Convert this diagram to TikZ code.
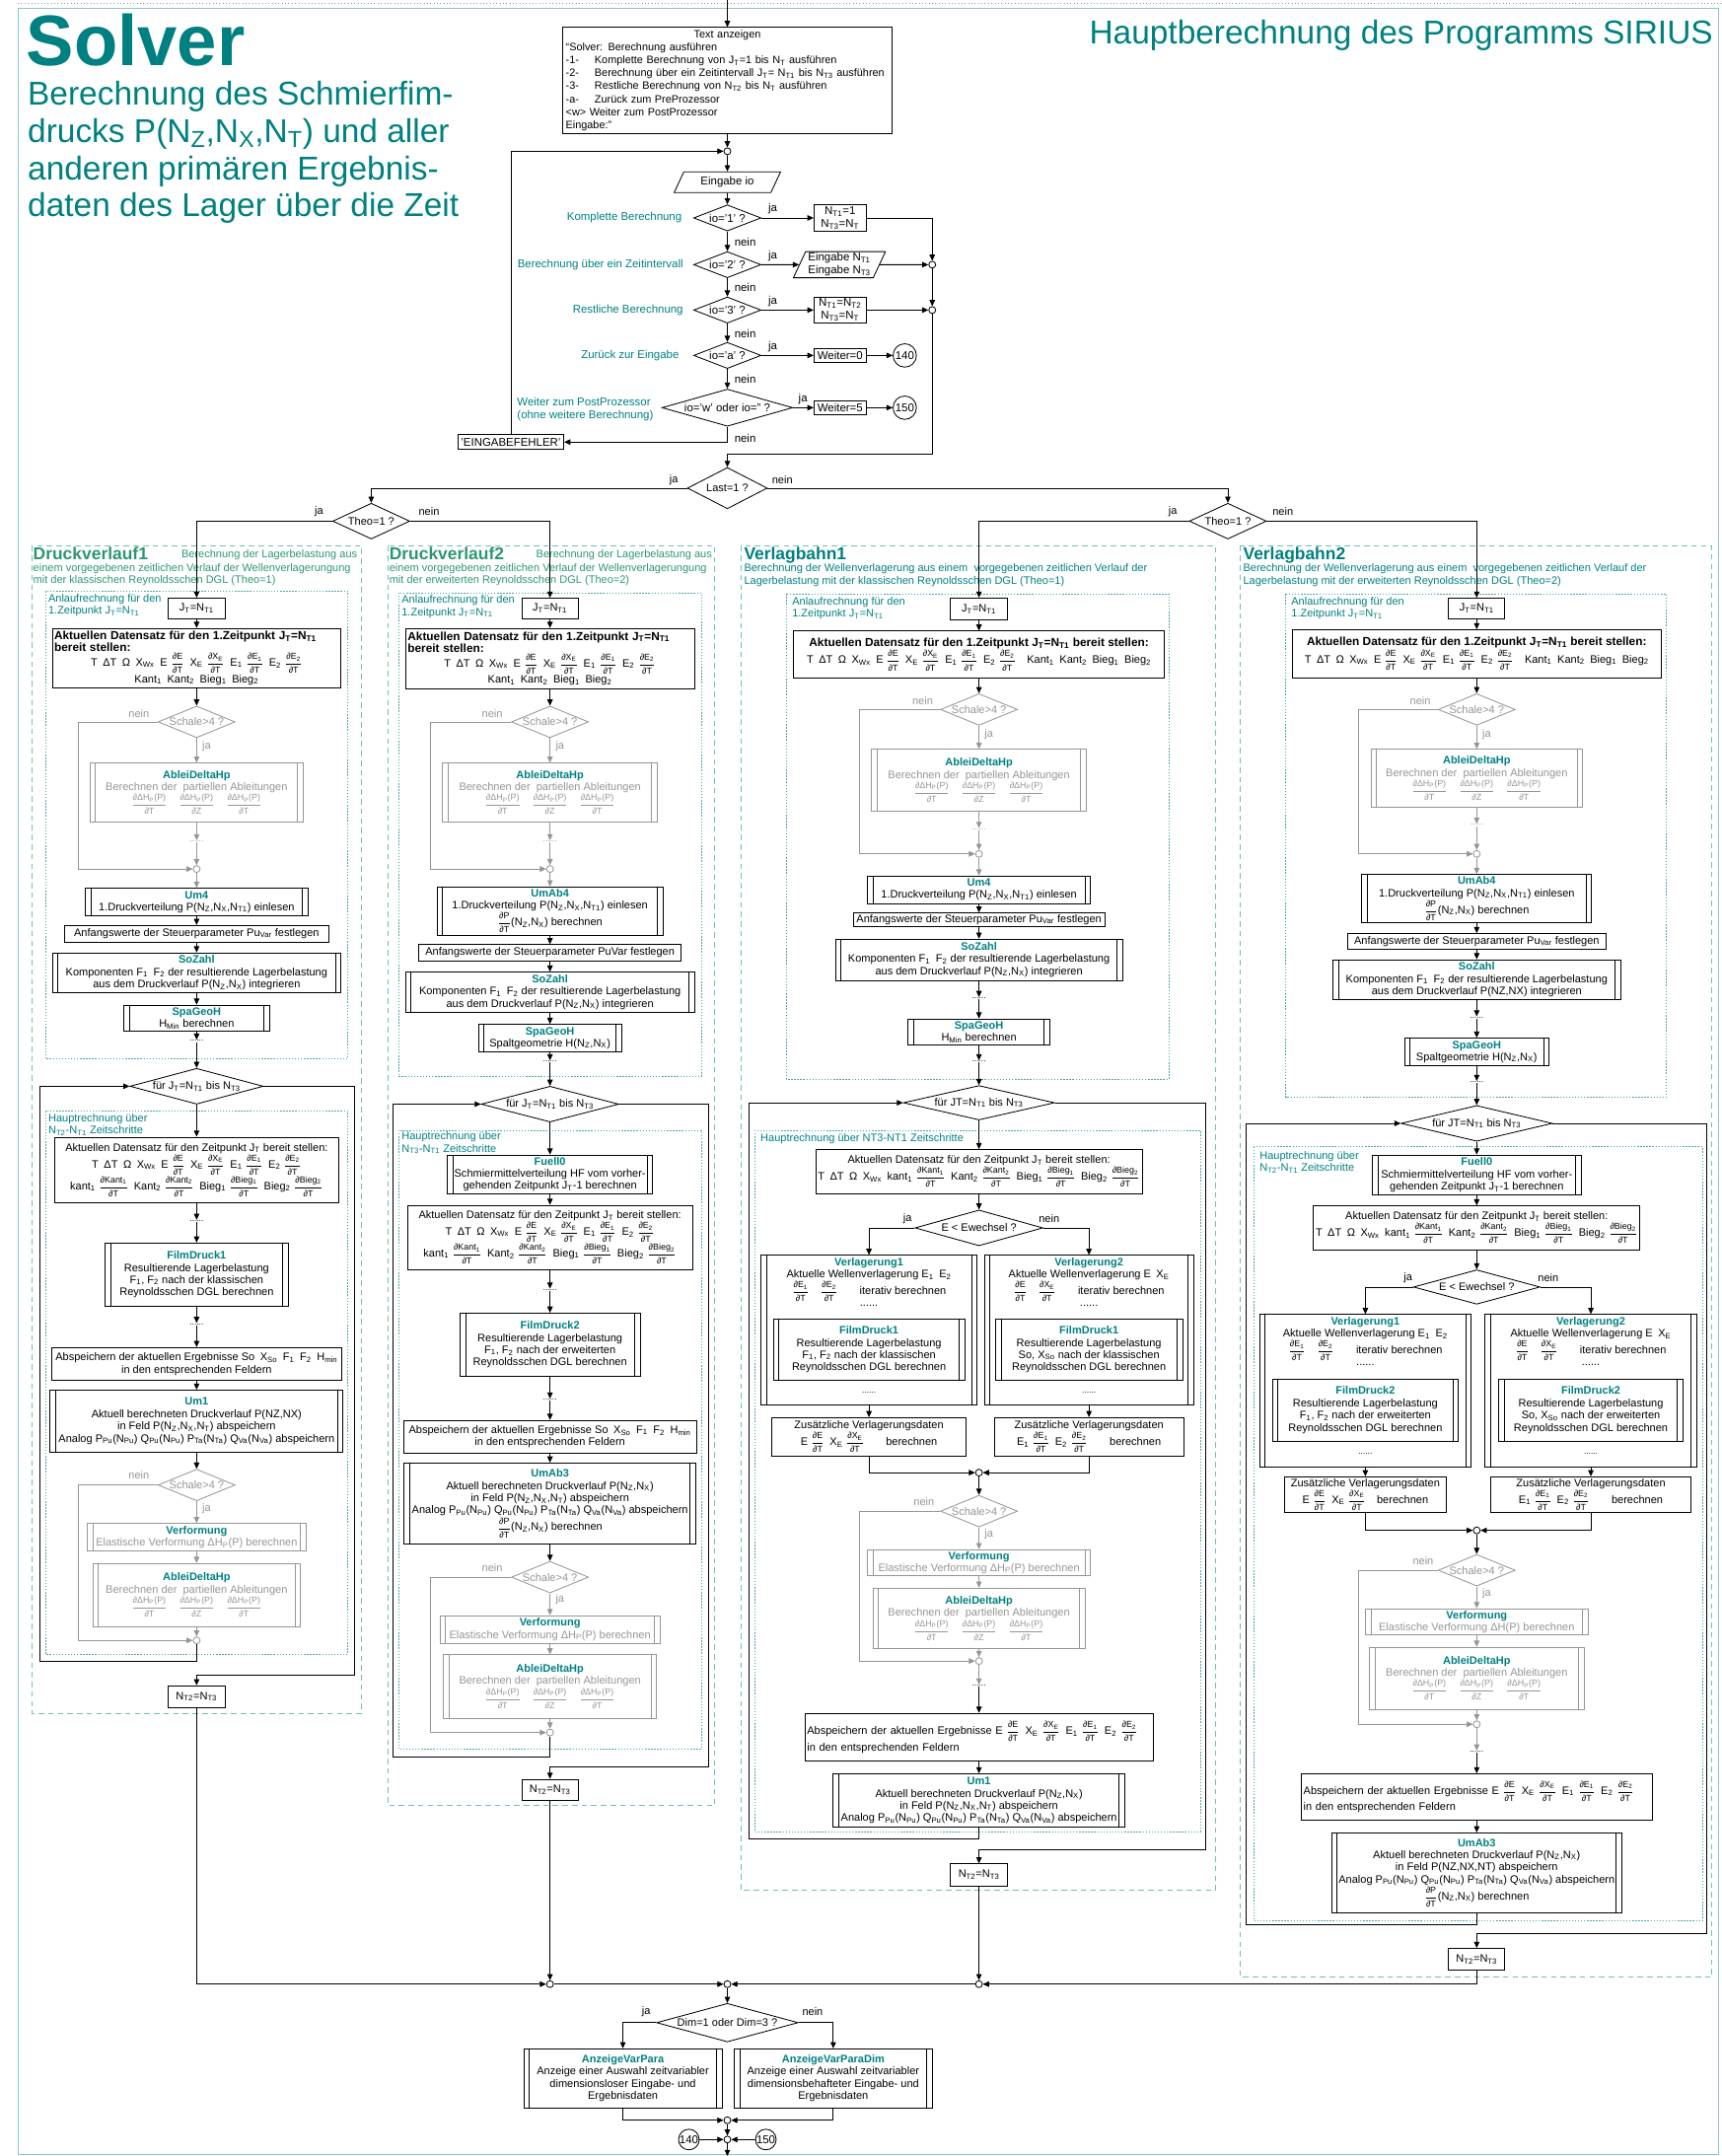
\documentclass[tikz,border=0pt]{standalone}
\usepackage{amsmath}
\usepackage{fontspec}
\setmainfont{Liberation Sans}
\usetikzlibrary{positioning,arrows.meta,shapes.geometric}
\definecolor{tealc}{RGB}{0,128,128}
\definecolor{greenc}{RGB}{45,150,115}
\definecolor{framec}{RGB}{110,195,170}
\definecolor{grayc}{RGB}{150,150,150}
\newcommand{\fs}{\fontsize{7.9}{8.9}\selectfont}
\newcommand{\fb}{\fontsize{8.5}{9.3}\selectfont\bfseries}
\newcommand{\ftop}{\fontsize{8.2}{9.3}\selectfont}
\newcommand{\sbs}[1]{\textsubscript{#1}}
\newcommand{\pn}[1]{\textbf{\textcolor{tealc}{#1}}}
\newcommand{\pd}[2]{{\fontsize{6.4}{7}\selectfont$\dfrac{\text{∂#1}}{\text{∂#2}}$}}
\newcommand{\dhrow}{\pd{ΔH\sbs{P}(P)}{T}\quad\pd{ΔH\sbs{P}(P)}{Z}\quad\pd{ΔH\sbs{P}(P)}{T}}
\newcommand{\ableitext}{\pn{AbleiDeltaHp}\\Berechnen der~ partiellen Ableitungen\\\dhrow}
\newcommand{\rowA}{T\enspace ΔT\enspace Ω\enspace X\sbs{Wx}\enspace E \pd{E}{T}\enspace X\sbs{E} \pd{X\sbs{E}}{T}\enspace E\sbs{1} \pd{E\sbs{1}}{T}\enspace E\sbs{2} \pd{E\sbs{2}}{T}}
\newcommand{\rowB}{Kant\sbs{1}\enspace Kant\sbs{2}\enspace Bieg\sbs{1}\enspace Bieg\sbs{2}}
\newcommand{\rowK}{kant\sbs{1} \pd{Kant\sbs{1}}{T}\enspace Kant\sbs{2} \pd{Kant\sbs{2}}{T}\enspace Bieg\sbs{1} \pd{Bieg\sbs{1}}{T}\enspace Bieg\sbs{2} \pd{Bieg\sbs{2}}{T}}
\newcommand{\analog}{Analog P\sbs{Pu}(N\sbs{Pu}) Q\sbs{Pu}(N\sbs{Pu}) P\sbs{Ta}(N\sbs{Ta}) Q\sbs{Va}(N\sbs{Va}) abspeichern}

\begin{document}
\begin{tikzpicture}[x=1pt, y=-1pt,
    ln/.style={line width=0.6pt},
    arr/.style={ln, -{Triangle[length=4.5pt, width=4pt]}},
    garr/.style={arr, grayc},
    box/.style={draw, ln, fill=white, inner xsep=1.5pt, inner ysep=1pt, align=center, font=\fs},
    sidec/.store in=\sidecol, sidec=black,
    sub/.style={box, path picture={
        \draw[\sidecol, ln] ([xshift=4pt]path picture bounding box.north west) -- ([xshift=4pt]path picture bounding box.south west);
        \draw[\sidecol, ln] ([xshift=-4pt]path picture bounding box.north east) -- ([xshift=-4pt]path picture bounding box.south east);}},
    gbox/.style={box, draw=grayc, text=grayc},
    gsub/.style={sub, draw=grayc, text=grayc, sidec=grayc},
    dec/.style={diamond, draw, ln, fill=white, inner sep=0pt, font=\fs},
    gdec/.style={dec, draw=grayc, text=grayc, aspect=2.4, minimum width=56pt, minimum height=23pt},
    io/.style={trapezium, trapezium left angle=65, trapezium right angle=115, draw, ln, fill=white, inner sep=1pt, align=center, font=\ftop},
    jn/.style={circle, draw, ln, fill=white, inner sep=0pt, minimum size=5pt},
    gjn/.style={jn, draw=grayc},
    con/.style={circle, draw, ln, fill=white, inner sep=0pt, minimum size=17pt, font=\ftop},
    dotrow/.style={font=\fontsize{6}{6}\selectfont, inner sep=0.3pt},
    gdotrow/.style={dotrow, text=grayc},
    lbl/.style={font=\fs, inner sep=1pt},
    glbl/.style={lbl, text=grayc},
    tlbl/.style={font=\fs, text=tealc, inner sep=0pt, align=left},
    desc/.style={font=\fs, text=greenc, inner sep=0pt, align=left},
    ttl/.style={font=\fontsize{12.5}{12.5}\selectfont\bfseries, text=greenc, inner sep=0pt},
    frm/.style={draw=framec, line width=0.7pt, dash pattern=on 4pt off 3pt},
    ifrm/.style={draw=tealc!70, line width=0.5pt, dash pattern=on 1pt off 1.2pt},
  ]
  \useasboundingbox (0,0) rectangle (1252,1568);
  \draw[grayc, dotted] (13,2) -- (1252,2);
  \draw[tealc!45, line width=0.6pt] (13,6) rectangle (1250,1567);

  % --- Titel ---
  \node[anchor=base west, inner sep=0pt, text=tealc, font=\fontsize{52}{52}\selectfont\bfseries] (title) at (19,48) {Solver};
  \node[anchor=north west, inner sep=0pt, text=tealc, align=left, font=\fontsize{24}{27}\selectfont] (subtitle) at (20,59)
    {Berechnung des Schmierfim-\\drucks P(N\sbs{Z},N\sbs{X},N\sbs{T}) und aller\\anderen primären Ergebnis-\\daten des Lager über die Zeit};
  \node[anchor=base east, inner sep=0pt, text=tealc, font=\fontsize{24}{27}\selectfont] (head) at (1246,32) {Hauptberechnung des Programms SIRIUS};

  % --- Eingabe ---
  \coordinate (top) at (529,0);
  \node[box, font=\fontsize{7.8}{9.4}\selectfont, text width=235pt, align=left, inner xsep=2pt, minimum height=77pt] (txt) at (529,58.5)
    {\makebox[\linewidth][c]{Text anzeigen}\\
     “Solver: Berechnung ausführen\\
     \makebox[21pt][l]{-1-}Komplette Berechnung von J\sbs{T}=1 bis N\sbs{T} ausführen\\
     \makebox[21pt][l]{-2-}Berechnung über ein Zeitintervall J\sbs{T}= N\sbs{T1} bis N\sbs{T3} ausführen\\
     \makebox[21pt][l]{-3-}Restliche Berechnung von N\sbs{T2} bis N\sbs{T} ausführen\\
     \makebox[21pt][l]{-a-}Zurück zum PreProzessor\\
     <w> Weiter zum PostProzessor\\
     Eingabe:”};
  \draw[arr] (top) -- (txt);
  \node[jn] (j0) at (529,110) {};
  \draw[arr] (txt) -- (j0);
  \node[io, minimum width=50pt, minimum height=15pt] (inp) at (529,132.5) {Eingabe io};
  \draw[arr] (j0) -- (inp);
  \node[dec, font=\ftop, aspect=2.5, minimum width=49pt, minimum height=19pt] (q1) at (529,158.5) {io='1' ?};
  \node[dec, font=\ftop, aspect=2.5, minimum width=49pt, minimum height=19pt] (q2) at (529,192.5) {io='2' ?};
  \node[dec, font=\ftop, aspect=2.5, minimum width=49pt, minimum height=19pt] (q3) at (529,225.5) {io='3' ?};
  \node[dec, font=\ftop, aspect=2.5, minimum width=49pt, minimum height=19pt] (q4) at (529,258.5) {io='a' ?};
  \node[dec, font=\ftop, aspect=3.5, minimum width=95pt, minimum height=27pt] (q5) at (529,296.5) {io='w' oder io='' ?};
  \draw[arr] (inp) -- (q1);
  \draw[arr] (q1) -- (q2);
  \draw[arr] (q2) -- (q3);
  \draw[arr] (q3) -- (q4);
  \draw[arr] (q4) -- (q5);
  \node[lbl, font=\ftop, anchor=west] (q1n) at (533,176) {nein};
  \node[lbl, font=\ftop, anchor=west] (q2n) at (533,209) {nein};
  \node[lbl, font=\ftop, anchor=west] (q3n) at (533,242.5) {nein};
  \node[lbl, font=\ftop, anchor=west] (q4n) at (533,275.5) {nein};
  \node[lbl, font=\ftop, anchor=west] (q5n) at (533,318.5) {nein};
  \node[lbl, font=\ftop] (q1j) at (562,152) {ja};
  \node[lbl, font=\ftop] (q2j) at (562,186) {ja};
  \node[lbl, font=\ftop] (q3j) at (562,219) {ja};
  \node[lbl, font=\ftop] (q4j) at (562,252) {ja};
  \node[lbl, font=\ftop] (q5j) at (584,290.5) {ja};
  \node[tlbl, font=\ftop, anchor=east] (q1t) at (496,158.5) {Komplette Berechnung};
  \node[tlbl, font=\ftop, anchor=east] (q2t) at (497,192.5) {Berechnung über ein Zeitintervall};
  \node[tlbl, font=\ftop, anchor=east] (q3t) at (497,225.5) {Restliche Berechnung};
  \node[tlbl, font=\ftop, anchor=east] (q4t) at (494,258.5) {Zurück zur Eingabe};
  \node[tlbl, font=\ftop, anchor=west] (q5t) at (376,298) {Weiter zum PostProzessor\\(ohne weitere Berechnung)};
  \node[box, font=\ftop, inner sep=0.5pt, minimum width=38pt, minimum height=19pt] (r1) at (611,158.5) {N\sbs{T1}=1\\N\sbs{T3}=N\sbs{T}};
  \node[io, inner sep=0.5pt, minimum width=62pt, minimum height=19pt] (r2) at (610.5,192.5) {Eingabe N\sbs{T1}\\Eingabe N\sbs{T3}};
  \node[box, font=\ftop, inner sep=0.5pt, minimum width=38pt, minimum height=19pt] (r3) at (611,225.5) {N\sbs{T1}=N\sbs{T2}\\N\sbs{T3}=N\sbs{T}};
  \node[box, font=\ftop, inner sep=0.5pt, minimum width=38pt, minimum height=10pt] (r4) at (611,258.5) {Weiter=0};
  \node[box, font=\ftop, inner sep=0.5pt, minimum width=38pt, minimum height=10pt] (r5) at (611,296.5) {Weiter=5};
  \node[con] (k140) at (658,258.5) {140};
  \node[con] (k150) at (658,296.5) {150};
  \node[jn] (j2) at (678,192.5) {};
  \node[jn] (j3) at (678,225.5) {};
  \draw[arr] (q1) -- (r1);
  \draw[arr] (q2) -- (r2);
  \draw[arr] (q3) -- (r3);
  \draw[arr] (q4) -- (r4);
  \draw[arr] (q5) -- (r5);
  \draw[arr] (r4) -- (k140);
  \draw[arr] (r5) -- (k150);
  \draw[arr] (r1) -| (j2);
  \draw[arr] (r2) -- (j2);
  \draw[arr] (j2) -- (j3);
  \draw[arr] (r3) -- (j3);
  \node[box, font=\ftop, inner sep=0.5pt, minimum width=77pt, minimum height=11pt] (err) at (371.5,321.5) {'EINGABEFEHLER'};
  \draw[arr] (q5) |- (err);
  \draw[arr] (err) |- (j0);

  % --- Verzweigung ---
  \node[dec, aspect=2, minimum width=58pt, minimum height=30pt] (last) at (529,355) {Last=1 ?};
  \draw[arr] (j3) -- (678,330) -| (last);
  \node[dec, aspect=2, minimum width=56pt, minimum height=26pt] (theo1) at (270,379) {Theo=1 ?};
  \node[dec, aspect=2, minimum width=56pt, minimum height=26pt] (theo2) at (893,379) {Theo=1 ?};
  \draw[arr] (last) -| (theo1);
  \draw[arr] (last) -| (theo2);
  \node[lbl] (lastj) at (490,349) {ja};
  \node[lbl] (lastn) at (569,349) {nein};
  \node[lbl] (t1j) at (232,372) {ja};
  \node[lbl] (t1n) at (312,372) {nein};
  \node[lbl] (t2j) at (853,372) {ja};
  \node[lbl] (t2n) at (933,372) {nein};

  % --- Druckverlauf1 ---
  \draw[frm] (23,397) rectangle (263,1246);
  \node[ttl, anchor=north west] (aT) at (24,398) {Druckverlauf1};
  \node[desc, anchor=north east] (aD1) at (260,400) {Berechnung der Lagerbelastung aus};
  \node[desc, anchor=north west] (aD2) at (24,409.5) {einem vorgegebenen zeitlichen Verlauf der Wellenverlagerungung\\mit der klassischen Reynoldsschen DGL (Theo=1)};
  \draw[ifrm] (33,430) rectangle (253,770);
  \node[tlbl, anchor=north west] (aL1) at (35,432) {Anlaufrechnung für den\\1.Zeitpunkt J\sbs{T}=N\sbs{T1}};
  \node[box, minimum width=41pt, minimum height=15pt] (a1) at (143,442.5) {J\sbs{T}=N\sbs{T1}};
  \node[box, text width=207pt, align=left, minimum height=43pt] (a2) at (143,478.5)
    {{\fb Aktuellen Datensatz für den 1.Zeitpunkt J\sbs{T}=N\sbs{T1}\\bereit stellen:}\\\makebox[\linewidth][c]{\rowA}\\\makebox[\linewidth][c]{\rowB}};
  \node[gdec] (a3) at (143,525) {Schale>4 ?};
  \node[glbl] (a3n) at (101,519) {nein};
  \node[glbl, anchor=west] (a3j) at (146,543) {ja};
  \node[gsub, minimum width=155pt, minimum height=43pt] (a4) at (143,576.5) {\ableitext};
  \node[gdotrow] (a5) at (143,612) {......};
  \node[gjn] (a6) at (143,632) {};
  \node[sub, minimum width=162pt, minimum height=20pt] (a7) at (143,656) {\pn{Um4}\\1.Druckverteilung P(N\sbs{Z},N\sbs{X},N\sbs{T1}) einlesen};
  \node[box, minimum width=192pt, minimum height=12pt] (a8) at (143,679) {Anfangswerte der Steuerparameter Pu\sbs{Var} festlegen};
  \node[sub, minimum width=210pt, minimum height=29pt] (a9) at (143,707.5) {\pn{SoZahl}\\Komponenten F\sbs{1}\enspace F\sbs{2} der resultierende Lagerbelastung\\aus dem Druckverlauf P(N\sbs{Z},N\sbs{X}) integrieren};
  \node[sub, minimum width=106pt, minimum height=19pt] (a10) at (143,740.5) {\pn{SpaGeoH}\\H\sbs{Min} berechnen};
  \node[dotrow] (a11) at (143,757) {......};
  \node[dec, aspect=3.7, minimum width=97pt, minimum height=26pt] (a12) at (143,790) {für J\sbs{T}=N\sbs{T1} bis N\sbs{T3}};
  \draw[ifrm] (33,808) rectangle (253,1203);
  \node[tlbl, anchor=north west] (aL2) at (35,810) {Hauptrechnung über\\N\sbs{T2}-N\sbs{T1} Zeitschritte};
  \node[box, minimum width=206pt, minimum height=48pt] (a13) at (143,851) {Aktuellen Datensatz für den Zeitpunkt J\sbs{T} bereit stellen:\\\rowA\\\rowK};
  \node[dotrow] (a14) at (143,888) {......};
  \node[sub, minimum width=133pt, minimum height=46pt] (a15) at (143,927) {\pn{FilmDruck1}\\Resultierende Lagerbelastung\\F\sbs{1}, F\sbs{2} nach der klassischen\\Reynoldsschen DGL berechnen};
  \node[dotrow] (a16) at (143,963) {......};
  \node[box, minimum width=211pt, minimum height=24pt] (a17) at (143,992) {Abspeichern der aktuellen Ergebnisse So\enspace X\sbs{So}\enspace F\sbs{1}\enspace F\sbs{2}\enspace H\sbs{min}\\in den entsprechenden Feldern};
  \node[sub, minimum width=213pt, minimum height=45pt] (a18) at (143,1033.5) {\pn{Um1}\\Aktuell berechneten Druckverlauf P(NZ,NX)\\in Feld P(N\sbs{Z},N\sbs{X},N\sbs{T}) abspeichern\\\analog};
  \node[gdec] (a19) at (143,1080) {Schale>4 ?};
  \node[glbl] (a19n) at (101,1073) {nein};
  \node[glbl, anchor=west] (a19j) at (146,1097) {ja};
  \node[gsub, minimum width=159pt, minimum height=20pt] (a20) at (143,1118) {\pn{Verformung}\\Elastische Verformung ΔH\sbs{P}(P) berechnen};
  \node[gsub, minimum width=151pt, minimum height=46pt] (a21) at (143,1160) {\ableitext};
  \node[gjn] (a22) at (143,1193) {};
  \node[box, minimum width=41pt, minimum height=16pt] (aN) at (143,1234) {N\sbs{T2}=N\sbs{T3}};
  \draw[arr] (a1) -- (a2);
  \draw[arr] (a2) -- (a3);
  \draw[garr] (a3) -- (a4);
  \draw[garr] (a4) -- (a5);
  \draw[garr] (a5) -- (a6);
  \draw[garr] (a3) -- (57,525) |- (a6);
  \draw[garr] (a6) -- (a7);
  \draw[arr] (a7) -- (a8);
  \draw[arr] (a8) -- (a9);
  \draw[arr] (a9) -- (a10);
  \draw[arr] (a10) -- (a11);
  \draw[arr] (a11) -- (a12);
  \draw[arr] (a12) -- (a13);
  \draw[arr] (a13) -- (a14);
  \draw[arr] (a14) -- (a15);
  \draw[arr] (a15) -- (a16);
  \draw[arr] (a16) -- (a17);
  \draw[arr] (a17) -- (a18);
  \draw[arr] (a18) -- (a19);
  \draw[garr] (a19) -- (a20);
  \draw[garr] (a20) -- (a21);
  \draw[garr] (a21) -- (a22);
  \draw[garr] (a19) -- (57,1080) |- (a22);
  \draw[arr] (a22) -- (143,1208) -| (29,790) -- (a12);
  \draw[arr] (a12) -- (258,790) |- (143,1218) -- (aN);
  \draw[arr] (theo1) -| (a1);

  % --- Druckverlauf2 ---
  \draw[frm] (282,397) rectangle (520,1313);
  \node[ttl, anchor=north west] (bT) at (283,398) {Druckverlauf2};
  \node[desc, anchor=north east] (bD1) at (518,400) {Berechnung der Lagerbelastung aus};
  \node[desc, anchor=north west] (bD2) at (283,409.5) {einem vorgegebenen zeitlichen Verlauf der Wellenverlagerungung\\mit der erweiterten Reynoldsschen DGL (Theo=2)};
  \draw[ifrm] (290,431) rectangle (510,783);
  \node[tlbl, anchor=north west] (bL1) at (292,433) {Anlaufrechnung für den\\1.Zeitpunkt J\sbs{T}=N\sbs{T1}};
  \node[box, minimum width=41pt, minimum height=15pt] (b1) at (400,442.5) {J\sbs{T}=N\sbs{T1}};
  \node[box, text width=207pt, align=left, minimum height=44pt] (b2) at (400,479)
    {{\fb Aktuellen Datensatz für den 1.Zeitpunkt J\sbs{T}=N\sbs{T1}\\bereit stellen:}\\\makebox[\linewidth][c]{\rowA}\\\makebox[\linewidth][c]{\rowB}};
  \node[gdec] (b3) at (400,525) {Schale>4 ?};
  \node[glbl] (b3n) at (358,519) {nein};
  \node[glbl, anchor=west] (b3j) at (403,543) {ja};
  \node[gsub, minimum width=156pt, minimum height=43pt] (b4) at (400,576.5) {\ableitext};
  \node[gdotrow] (b5) at (400,612) {......};
  \node[gjn] (b6) at (400,632) {};
  \node[sub, minimum width=164pt, minimum height=35pt] (b7) at (400,662.5) {\pn{UmAb4}\\1.Druckverteilung P(N\sbs{Z},N\sbs{X},N\sbs{T1}) einlesen\\\pd{P}{T}(N\sbs{Z},N\sbs{X}) berechnen};
  \node[box, minimum width=191pt, minimum height=12pt] (b8) at (400,693) {Anfangswerte der Steuerparameter PuVar festlegen};
  \node[sub, minimum width=210pt, minimum height=29pt] (b9) at (400,721.5) {\pn{SoZahl}\\Komponenten F\sbs{1}\enspace F\sbs{2} der resultierende Lagerbelastung\\aus dem Druckverlauf P(N\sbs{Z},N\sbs{X}) integrieren};
  \node[sub, minimum width=104pt, minimum height=20pt] (b10) at (400,755) {\pn{SpaGeoH}\\Spaltgeometrie H(N\sbs{Z},N\sbs{X})};
  \node[dotrow] (b11) at (400,772) {......};
  \node[dec, aspect=3.7, minimum width=100pt, minimum height=26pt] (b12) at (400,803) {für J\sbs{T}=N\sbs{T1} bis N\sbs{T3}};
  \draw[ifrm] (290,822) rectangle (510,1272);
  \node[tlbl, anchor=north west] (bL2) at (292,823) {Hauptrechnung über\\N\sbs{T3}-N\sbs{T1} Zeitschritte};
  \node[sub, minimum width=149pt, minimum height=28pt] (b13) at (400,854) {\pn{Fuell0}\\Schmiermittelverteilung HF vom vorher-\\gehenden Zeitpunkt J\sbs{T}-1 berechnen};
  \node[box, minimum width=207pt, minimum height=47pt] (b14) at (400,900) {Aktuellen Datensatz für den Zeitpunkt J\sbs{T} bereit stellen:\\\rowA\\\rowK};
  \node[dotrow] (b15) at (400,938) {......};
  \node[sub, minimum width=131pt, minimum height=46pt] (b16) at (400,978) {\pn{FilmDruck2}\\Resultierende Lagerbelastung\\F\sbs{1}, F\sbs{2} nach der erweiterten\\Reynoldsschen DGL berechnen};
  \node[dotrow] (b17) at (400,1018) {......};
  \node[box, minimum width=213pt, minimum height=24pt] (b18) at (400,1045) {Abspeichern der aktuellen Ergebnisse So\enspace X\sbs{So}\enspace F\sbs{1}\enspace F\sbs{2}\enspace H\sbs{min}\\in den entsprechenden Feldern};
  \node[sub, minimum width=212pt, minimum height=59pt] (b19) at (400,1093.5) {\pn{UmAb3}\\Aktuell berechneten Druckverlauf P(N\sbs{Z},N\sbs{X})\\in Feld P(N\sbs{Z},N\sbs{X},N\sbs{T}) abspeichern\\\analog\\\pd{P}{T}(N\sbs{Z},N\sbs{X}) berechnen};
  \node[gdec] (b20) at (400,1147) {Schale>4 ?};
  \node[glbl] (b20n) at (358,1140) {nein};
  \node[glbl, anchor=west] (b20j) at (403,1163) {ja};
  \node[gsub, minimum width=160pt, minimum height=20pt] (b21) at (400,1185) {\pn{Verformung}\\Elastische Verformung ΔH\sbs{P}(P) berechnen};
  \node[gsub, minimum width=155pt, minimum height=46pt] (b22) at (400,1226.5) {\ableitext};
  \node[gjn] (b23) at (400,1260) {};
  \node[box, minimum width=41pt, minimum height=15pt] (bN) at (400,1301.5) {N\sbs{T2}=N\sbs{T3}};
  \draw[arr] (b1) -- (b2);
  \draw[arr] (b2) -- (b3);
  \draw[garr] (b3) -- (b4);
  \draw[garr] (b4) -- (b5);
  \draw[garr] (b5) -- (b6);
  \draw[garr] (b3) -- (313,525) |- (b6);
  \draw[garr] (b6) -- (b7);
  \draw[arr] (b7) -- (b8);
  \draw[arr] (b8) -- (b9);
  \draw[arr] (b9) -- (b10);
  \draw[arr] (b10) -- (b11);
  \draw[arr] (b11) -- (b12);
  \draw[arr] (b12) -- (b13);
  \draw[arr] (b13) -- (b14);
  \draw[arr] (b14) -- (b15);
  \draw[arr] (b15) -- (b16);
  \draw[arr] (b16) -- (b17);
  \draw[arr] (b17) -- (b18);
  \draw[arr] (b18) -- (b19);
  \draw[arr] (b19) -- (b20);
  \draw[garr] (b20) -- (b21);
  \draw[garr] (b21) -- (b22);
  \draw[garr] (b22) -- (b23);
  \draw[garr] (b20) -- (313,1147) |- (b23);
  \draw[arr] (b23) -- (400,1278) -| (286,803) -- (b12);
  \draw[arr] (b12) -- (515,803) |- (400,1285) -- (bN);
  \draw[arr] (theo1) -| (b1);

  % --- Verlagbahn1 ---
  \draw[frm] (539,397) rectangle (884,1375);
  \node[ttl, text=tealc, anchor=north west] (cT) at (541,398) {Verlagbahn1};
  \node[desc, text=tealc, anchor=north west] (cD) at (541,410) {Berechnung der Wellenverlagerung aus einem~ vorgegebenen zeitlichen Verlauf der\\Lagerbelastung mit der klassischen Reynoldsschen DGL (Theo=1)};
  \draw[ifrm] (572,432) rectangle (850,785);
  \node[tlbl, anchor=north west] (cL1) at (576,434) {Anlaufrechnung für den\\1.Zeitpunkt J\sbs{T}=N\sbs{T1}};
  \node[box, minimum width=42pt, minimum height=16pt] (c1) at (712,443) {J\sbs{T}=N\sbs{T1}};
  \node[box, minimum width=270pt, minimum height=34pt] (c2) at (712,476) {{\fb Aktuellen Datensatz für den 1.Zeitpunkt J\sbs{T}=N\sbs{T1} bereit stellen:}\\\rowA\quad\rowB};
  \node[gdec] (c3) at (712,516) {Schale>4 ?};
  \node[glbl] (c3n) at (671,510) {nein};
  \node[glbl, anchor=west] (c3j) at (715,534) {ja};
  \node[gsub, minimum width=156pt, minimum height=45pt] (c4) at (712,567.5) {\ableitext};
  \node[gdotrow] (c5) at (712,603) {......};
  \node[gjn] (c6) at (712,621) {};
  \node[sub, minimum width=162pt, minimum height=20pt] (c7) at (712,647) {\pn{Um4}\\1.Druckverteilung P(N\sbs{Z},N\sbs{X},N\sbs{T1}) einlesen};
  \node[box, minimum width=183pt, minimum height=10pt] (c8) at (712,669) {Anfangswerte der Steuerparameter Pu\sbs{Var} festlegen};
  \node[sub, minimum width=209pt, minimum height=30pt] (c9) at (712,698) {\pn{SoZahl}\\Komponenten F\sbs{1}\enspace F\sbs{2} der resultierende Lagerbelastung\\aus dem Druckverlauf P(N\sbs{Z},N\sbs{X}) integrieren};
  \node[dotrow] (c10) at (712,726) {......};
  \node[sub, minimum width=103pt, minimum height=19pt] (c11) at (712,750.5) {\pn{SpaGeoH}\\H\sbs{Min} berechnen};
  \node[dotrow] (c12) at (712,772) {......};
  \node[dec, aspect=4, minimum width=110pt, minimum height=25pt] (c13) at (712,802) {für JT=N\sbs{T1} bis N\sbs{T3}};
  \draw[ifrm] (549,822) rectangle (873,1332);
  \node[tlbl, anchor=north west] (cL2) at (553,824) {Hauptrechnung über NT3-NT1 Zeitschritte};
  \node[box, minimum width=211pt, minimum height=32pt] (c14) at (712,852) {Aktuellen Datensatz für den Zeitpunkt J\sbs{T} bereit stellen:\\T\enspace ΔT\enspace Ω\enspace X\sbs{Wx}\enspace\rowK};
  \node[dec, aspect=3.6, minimum width=93pt, minimum height=26pt] (c15) at (712,893) {E < Ewechsel ?};
  \node[lbl] (c15j) at (660,886) {ja};
  \node[lbl] (c15n) at (763,886) {nein};
  \node[sub, minimum width=157pt, minimum height=109pt] (c16) at (632,967.5) {};
  \node[lbl, anchor=north, align=center] (c16t) at (632,913.5) {\pn{Verlagerung1}\\Aktuelle Wellenverlagerung E\sbs{1}\enspace E\sbs{2}\\\pd{E\sbs{1}}{T}\quad\pd{E\sbs{2}}{T}\qquad iterativ berechnen\\......};
  \node[sub, minimum width=139pt, minimum height=45pt] (c17) at (632,981.5) {\pn{FilmDruck1}\\Resultierende Lagerbelastung\\F\sbs{1}, F\sbs{2} nach der klassischen\\Reynoldsschen DGL berechnen};
  \node[dotrow] (c17d) at (632,1013) {......};
  \node[sub, minimum width=152pt, minimum height=109pt] (c18) at (792,967.5) {};
  \node[lbl, anchor=north, align=center] (c18t) at (792,913.5) {\pn{Verlagerung2}\\Aktuelle Wellenverlagerung E\enspace X\sbs{E}\\\pd{E}{T}\quad\pd{X\sbs{E}}{T}\qquad iterativ berechnen\\......};
  \node[sub, minimum width=136pt, minimum height=45pt] (c19) at (792,981.5) {\pn{FilmDruck1}\\Resultierende Lagerbelastung\\So, X\sbs{So} nach der klassischen\\Reynoldsschen DGL berechnen};
  \node[dotrow] (c19d) at (792,1013) {......};
  \node[box, minimum width=141pt, minimum height=28pt] (c20) at (632,1045) {Zusätzliche Verlagerungsdaten\\E \pd{E}{T}\enspace X\sbs{E} \pd{X\sbs{E}}{T}\qquad berechnen};
  \node[box, minimum width=138pt, minimum height=28pt] (c21) at (792,1045) {Zusätzliche Verlagerungsdaten\\E\sbs{1} \pd{E\sbs{1}}{T}\enspace E\sbs{2} \pd{E\sbs{2}}{T}\qquad berechnen};
  \node[jn] (c22) at (712,1071) {};
  \node[gdec] (c23) at (712,1099) {Schale>4 ?};
  \node[glbl] (c23n) at (672,1092) {nein};
  \node[glbl, anchor=west] (c23j) at (715,1116) {ja};
  \node[gsub, minimum width=162pt, minimum height=19pt] (c24) at (712,1136.5) {\pn{Verformung}\\Elastische Verformung ΔH\sbs{P}(P) berechnen};
  \node[gsub, minimum width=154pt, minimum height=44pt] (c25) at (712,1177) {\ableitext};
  \node[gjn] (c26) at (712,1208) {};
  \node[dotrow] (c27) at (712,1226) {......};
  \node[box, text width=250pt, align=left, minimum height=35pt] (c28) at (712,1263.5) {Abspeichern der aktuellen Ergebnisse E \pd{E}{T}\enspace X\sbs{E} \pd{X\sbs{E}}{T}\enspace E\sbs{1} \pd{E\sbs{1}}{T}\enspace E\sbs{2} \pd{E\sbs{2}}{T}\\in den entsprechenden Feldern};
  \node[sub, minimum width=212pt, minimum height=39pt] (c29) at (712,1309.5) {\pn{Um1}\\Aktuell berechneten Druckverlauf P(N\sbs{Z},N\sbs{X})\\in Feld P(N\sbs{Z},N\sbs{X},N\sbs{T}) abspeichern\\\analog};
  \node[box, minimum width=42pt, minimum height=16pt] (cN) at (712,1363.5) {N\sbs{T2}=N\sbs{T3}};
  \draw[arr] (c1) -- (c2);
  \draw[arr] (c2) -- (c3);
  \draw[garr] (c3) -- (c4);
  \draw[garr] (c4) -- (c5);
  \draw[garr] (c5) -- (c6);
  \draw[garr] (c3) -- (625,516) |- (c6);
  \draw[garr] (c6) -- (c7);
  \draw[arr] (c7) -- (c8);
  \draw[arr] (c8) -- (c9);
  \draw[arr] (c9) -- (c10);
  \draw[arr] (c10) -- (c11);
  \draw[arr] (c11) -- (c12);
  \draw[arr] (c12) -- (c13);
  \draw[arr] (c13) -- (c14);
  \draw[arr] (c14) -- (c15);
  \draw[arr] (c15) -| (c16);
  \draw[arr] (c15) -| (c18);
  \draw[arr] (c16) -- (c20);
  \draw[arr] (c18) -- (c21);
  \draw[arr] (c20) |- (c22);
  \draw[arr] (c21) |- (c22);
  \draw[arr] (c22) -- (c23);
  \draw[garr] (c23) -- (c24);
  \draw[garr] (c24) -- (c25);
  \draw[garr] (c25) -- (c26);
  \draw[garr] (c23) -- (625,1099) |- (c26);
  \draw[garr] (c26) -- (c27);
  \draw[arr] (c27) -- (c28);
  \draw[arr] (c28) -- (c29);
  \draw[arr] (c29) -- (712,1337) -| (545,802) -- (c13);
  \draw[arr] (c13) -- (877,802) |- (712,1345) -- (cN);
  \draw[arr] (theo2) -| (c1);

  % --- Verlagbahn2 ---
  \draw[frm] (902,397) rectangle (1245,1438);
  \node[ttl, text=tealc, anchor=north west] (dT) at (904,398) {Verlagbahn2};
  \node[desc, text=tealc, anchor=north west] (dD) at (904,410) {Berechnung der Wellenverlagerung aus einem~ vorgegebenen zeitlichen Verlauf der\\Lagerbelastung mit der erweiterten Reynoldsschen DGL (Theo=2)};
  \draw[ifrm] (935,432) rectangle (1212,798);
  \node[tlbl, anchor=north west] (dL1) at (939,434) {Anlaufrechnung für den\\1.Zeitpunkt J\sbs{T}=N\sbs{T1}};
  \node[box, minimum width=41pt, minimum height=15pt] (d1) at (1074,442.5) {J\sbs{T}=N\sbs{T1}};
  \node[box, minimum width=268pt, minimum height=35pt] (d2) at (1074,475.5) {{\fb Aktuellen Datensatz für den 1.Zeitpunkt J\sbs{T}=N\sbs{T1} bereit stellen:}\\\rowA\quad\rowB};
  \node[gdec] (d3) at (1074,516) {Schale>4 ?};
  \node[glbl] (d3n) at (1033,510) {nein};
  \node[glbl, anchor=west] (d3j) at (1077,534) {ja};
  \node[gsub, minimum width=154pt, minimum height=42pt] (d4) at (1074,566) {\ableitext};
  \node[gdotrow] (d5) at (1074,600) {......};
  \node[gjn] (d6) at (1074,621) {};
  \node[sub, minimum width=167pt, minimum height=35pt] (d7) at (1074,653.5) {\pn{UmAb4}\\1.Druckverteilung P(N\sbs{Z},N\sbs{X},N\sbs{T1}) einlesen\\\pd{P}{T}(N\sbs{Z},N\sbs{X}) berechnen};
  \node[box, minimum width=188pt, minimum height=11pt] (d8) at (1074,684.5) {Anfangswerte der Steuerparameter Pu\sbs{Var} festlegen};
  \node[sub, minimum width=209pt, minimum height=29pt] (d9) at (1074,712.5) {\pn{SoZahl}\\Komponenten F\sbs{1}\enspace F\sbs{2} der resultierende Lagerbelastung\\aus dem Druckverlauf P(NZ,NX) integrieren};
  \node[dotrow] (d10) at (1074,740) {......};
  \node[sub, minimum width=105pt, minimum height=20pt] (d11) at (1074,765) {\pn{SpaGeoH}\\Spaltgeometrie H(N\sbs{Z},N\sbs{X})};
  \node[dotrow] (d12) at (1074,787) {......};
  \node[dec, aspect=4, minimum width=110pt, minimum height=26pt] (d13) at (1074,817) {für JT=N\sbs{T1} bis N\sbs{T3}};
  \draw[ifrm] (912,834) rectangle (1238,1397);
  \node[tlbl, anchor=north west] (dL2) at (916,837) {Hauptrechnung über\\N\sbs{T2}-N\sbs{T1} Zeitschritte};
  \node[sub, minimum width=152pt, minimum height=29pt] (d14) at (1074,854.5) {\pn{Fuell0}\\Schmiermittelverteilung HF vom vorher-\\gehenden Zeitpunkt J\sbs{T}-1 berechnen};
  \node[box, minimum width=210pt, minimum height=32pt] (d15) at (1074,893) {Aktuellen Datensatz für den Zeitpunkt J\sbs{T} bereit stellen:\\T\enspace ΔT\enspace Ω\enspace X\sbs{Wx}\enspace\rowK};
  \node[dec, aspect=3.6, minimum width=92pt, minimum height=25pt] (d16) at (1074,936) {E < Ewechsel ?};
  \node[lbl] (d16j) at (1024,929) {ja};
  \node[lbl] (d16n) at (1126,929) {nein};
  \node[sub, minimum width=154pt, minimum height=111pt] (d17) at (993,1011.5) {};
  \node[lbl, anchor=north, align=center] (d17t) at (993,956.5) {\pn{Verlagerung1}\\Aktuelle Wellenverlagerung E\sbs{1}\enspace E\sbs{2}\\\pd{E\sbs{1}}{T}\quad\pd{E\sbs{2}}{T}\qquad iterativ berechnen\\......};
  \node[sub, minimum width=135pt, minimum height=45pt] (d18) at (993,1025.5) {\pn{FilmDruck2}\\Resultierende Lagerbelastung\\F\sbs{1}, F\sbs{2} nach der erweiterten\\Reynoldsschen DGL berechnen};
  \node[dotrow] (d18d) at (993,1057) {......};
  \node[sub, minimum width=154pt, minimum height=111pt] (d19) at (1157,1011.5) {};
  \node[lbl, anchor=north, align=center] (d19t) at (1157,956.5) {\pn{Verlagerung2}\\Aktuelle Wellenverlagerung E\enspace X\sbs{E}\\\pd{E}{T}\quad\pd{X\sbs{E}}{T}\qquad iterativ berechnen\\......};
  \node[sub, minimum width=134pt, minimum height=45pt] (d20) at (1157,1025.5) {\pn{FilmDruck2}\\Resultierende Lagerbelastung\\So, X\sbs{So} nach der erweiterten\\Reynoldsschen DGL berechnen};
  \node[dotrow] (d20d) at (1157,1057) {......};
  \node[box, minimum width=118pt, minimum height=26pt] (d21) at (993,1087) {Zusätzliche Verlagerungsdaten\\E \pd{E}{T}\enspace X\sbs{E} \pd{X\sbs{E}}{T}\quad berechnen};
  \node[box, minimum width=146pt, minimum height=26pt] (d22) at (1157,1087) {Zusätzliche Verlagerungsdaten\\E\sbs{1} \pd{E\sbs{1}}{T}\enspace E\sbs{2} \pd{E\sbs{2}}{T}\qquad berechnen};
  \node[jn] (d23) at (1074,1113) {};
  \node[gdec] (d24) at (1074,1142) {Schale>4 ?};
  \node[glbl] (d24n) at (1035,1135) {nein};
  \node[glbl, anchor=west] (d24j) at (1077,1159) {ja};
  \node[gsub, minimum width=162pt, minimum height=19pt] (d25) at (1074,1179.5) {\pn{Verformung}\\Elastische Verformung ΔH(P) berechnen};
  \node[gsub, minimum width=156pt, minimum height=45pt] (d26) at (1074,1220.5) {\ableitext};
  \node[gjn] (d27) at (1074,1254) {};
  \node[dotrow] (d28) at (1074,1274) {......};
  \node[box, text width=252pt, align=left, minimum height=34pt] (d29) at (1074,1307) {Abspeichern der aktuellen Ergebnisse E \pd{E}{T}\enspace X\sbs{E} \pd{X\sbs{E}}{T}\enspace E\sbs{1} \pd{E\sbs{1}}{T}\enspace E\sbs{2} \pd{E\sbs{2}}{T}\\in den entsprechenden Feldern};
  \node[sub, minimum width=211pt, minimum height=58pt] (d30) at (1074,1362) {\pn{UmAb3}\\Aktuell berechneten Druckverlauf P(N\sbs{Z},N\sbs{X})\\in Feld P(NZ,NX,NT) abspeichern\\\analog\\\pd{P}{T}(N\sbs{Z},N\sbs{X}) berechnen};
  \node[box, minimum width=41pt, minimum height=16pt] (dN) at (1074,1425) {N\sbs{T2}=N\sbs{T3}};
  \draw[arr] (d1) -- (d2);
  \draw[arr] (d2) -- (d3);
  \draw[garr] (d3) -- (d4);
  \draw[garr] (d4) -- (d5);
  \draw[garr] (d5) -- (d6);
  \draw[garr] (d3) -- (988,516) |- (d6);
  \draw[garr] (d6) -- (d7);
  \draw[arr] (d7) -- (d8);
  \draw[arr] (d8) -- (d9);
  \draw[arr] (d9) -- (d10);
  \draw[arr] (d10) -- (d11);
  \draw[arr] (d11) -- (d12);
  \draw[arr] (d12) -- (d13);
  \draw[arr] (d13) -- (d14);
  \draw[arr] (d14) -- (d15);
  \draw[arr] (d15) -- (d16);
  \draw[arr] (d16) -| (d17);
  \draw[arr] (d16) -| (d19);
  \draw[arr] (d17) -- (d21);
  \draw[arr] (d19) -- (d22);
  \draw[arr] (d21) |- (d23);
  \draw[arr] (d22) |- (d23);
  \draw[arr] (d23) -- (d24);
  \draw[garr] (d24) -- (d25);
  \draw[garr] (d25) -- (d26);
  \draw[garr] (d26) -- (d27);
  \draw[garr] (d24) -- (988,1142) |- (d27);
  \draw[garr] (d27) -- (d28);
  \draw[arr] (d28) -- (d29);
  \draw[arr] (d29) -- (d30);
  \draw[arr] (d30) -- (1074,1400) -| (906,817) -- (d13);
  \draw[arr] (d13) -- (1241,817) |- (1074,1406) -- (dN);
  \draw[arr] (theo2) -| (d1);

  % --- Ausgabe ---
  \node[jn] (m1) at (400,1443) {};
  \node[jn] (m0) at (529,1443) {};
  \node[jn] (m2) at (712,1443) {};
  \draw[arr] (aN) |- (m1);
  \draw[arr] (bN) -- (m1);
  \draw[arr] (m1) -- (m0);
  \draw[arr] (cN) -- (m2);
  \draw[arr] (dN) |- (m2);
  \draw[arr] (m2) -- (m0);
  \node[dec, aspect=3.7, minimum width=103pt, minimum height=28pt] (dim) at (529,1471) {Dim=1 oder Dim=3 ?};
  \draw[arr] (m0) -- (dim);
  \node[lbl] (dimj) at (470,1463) {ja};
  \node[lbl] (dimn) at (591,1463) {nein};
  \node[sub, minimum width=144pt, minimum height=43pt] (av1) at (453,1511.5) {\pn{AnzeigeVarPara}\\Anzeige einer Auswahl zeitvariabler\\dimensionsloser Eingabe- und\\Ergebnisdaten};
  \node[sub, minimum width=144pt, minimum height=43pt] (av2) at (606,1511.5) {\pn{AnzeigeVarParaDim}\\Anzeige einer Auswahl zeitvariabler\\dimensionsbehafteter Eingabe- und\\Ergebnisdaten};
  \draw[arr] (dim) -| (av1);
  \draw[arr] (dim) -| (av2);
  \node[jn] (m3) at (529,1542) {};
  \draw[arr] (av1) |- (m3);
  \draw[arr] (av2) |- (m3);
  \node[jn] (m4) at (529,1556) {};
  \draw[arr] (m3) -- (m4);
  \node[con, minimum size=15pt] (k140b) at (501,1556) {140};
  \node[con, minimum size=15pt] (k150b) at (557,1556) {150};
  \draw[arr] (k140b) -- (m4);
  \draw[arr] (k150b) -- (m4);
  \coordinate (fin) at (529,1568);
  \draw[arr] (m4) -- (fin);
\end{tikzpicture}
\end{document}
